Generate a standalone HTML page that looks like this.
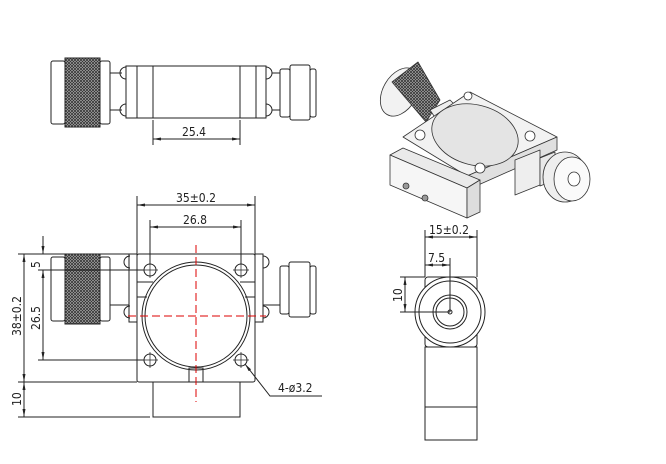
<!DOCTYPE html>
<html><head><style>
html,body{margin:0;padding:0;background:#fff;width:666px;height:464px;overflow:hidden}
svg text{font-family:"DejaVu Sans Condensed","Liberation Sans",sans-serif;fill:#222}
</style></head><body>
<svg width="666" height="464" viewBox="0 0 666 464" xmlns="http://www.w3.org/2000/svg">
<defs>
<pattern id="kn" width="3" height="3" patternUnits="userSpaceOnUse">
<rect width="3" height="3" fill="#bbb"/><path d="M0 0L3 3M3 0L0 3" stroke="#333" stroke-width="0.8"/>
</pattern>
<marker id="a" markerWidth="8" markerHeight="6" refX="8" refY="3" orient="auto-start-reverse" markerUnits="userSpaceOnUse"><path d="M0 1.5L8 3L0 4.5z" fill="#222"/></marker>
</defs>
<g fill="none" stroke="#222" stroke-width="1">
<!-- TOP VIEW -->
<rect x="51" y="61" width="14" height="63" rx="2"/>
<rect x="65" y="58" width="35" height="69" fill="url(#kn)"/>
<rect x="100" y="61" width="10" height="63" rx="2"/>
<line x1="110" y1="73" x2="122" y2="73"/><line x1="110" y1="110" x2="122" y2="110"/>
<path d="M126 67a6 6 0 0 0 0 12M126 104a6 6 0 0 0 0 12"/>
<rect x="126" y="66" width="140" height="52"/>
<line x1="137" y1="66" x2="137" y2="118"/><line x1="153" y1="66" x2="153" y2="118"/>
<line x1="240" y1="66" x2="240" y2="118"/><line x1="256" y1="66" x2="256" y2="118"/>
<path d="M266 67a6 6 0 0 1 0 12M266 104a6 6 0 0 1 0 12"/>
<line x1="272" y1="73" x2="280" y2="73"/><line x1="272" y1="110" x2="280" y2="110"/>
<rect x="280" y="69" width="10" height="48" rx="2"/>
<rect x="290" y="65" width="20" height="55" rx="2"/>
<rect x="310" y="69" width="6" height="48" rx="2"/>
<line x1="153" y1="120" x2="153" y2="145"/><line x1="240" y1="120" x2="240" y2="145"/>
<line x1="153" y1="139" x2="240" y2="139" marker-start="url(#a)" marker-end="url(#a)"/>

<!-- FRONT VIEW -->
<rect x="51" y="257" width="14" height="64" rx="2"/>
<rect x="65" y="254" width="35" height="70" fill="url(#kn)"/>
<rect x="100" y="257" width="10" height="64" rx="2"/>
<line x1="110" y1="305" x2="129" y2="305"/>
<path d="M130 256a6 6 0 0 0 0 12M130 306a6 6 0 0 0 0 12"/>
<rect x="129" y="254" width="8" height="68"/>
<rect x="137" y="254" width="118" height="128" rx="2"/>
<line x1="137" y1="282" x2="153" y2="282"/><line x1="240" y1="282" x2="255" y2="282"/>
<line x1="137" y1="297" x2="147" y2="297"/><line x1="245" y1="297" x2="255" y2="297"/>
<rect x="255" y="254" width="8" height="68"/>
<path d="M263 256a6 6 0 0 1 0 12M263 306a6 6 0 0 1 0 12"/>
<line x1="263" y1="305" x2="280" y2="305"/>
<rect x="280" y="266" width="9" height="48" rx="2"/>
<rect x="289" y="262" width="21" height="55" rx="2"/>
<rect x="310" y="266" width="6" height="48" rx="2"/>
<circle cx="196" cy="316" r="54"/><circle cx="196" cy="316" r="51"/>
<circle cx="150" cy="270" r="6"/><circle cx="241" cy="270" r="6"/>
<circle cx="150" cy="360" r="6"/><circle cx="241" cy="360" r="6"/>
<path d="M142 270h16M150 262v16M233 270h16M241 262v16M142 360h16M150 352v16M233 360h16M241 352v16" stroke-width="0.7"/>
<rect x="189" y="368" width="14" height="14"/>
<rect x="153" y="382" width="87" height="35"/>
<line x1="137" y1="196" x2="137" y2="254"/><line x1="255" y1="196" x2="255" y2="254"/>
<line x1="137" y1="205" x2="255" y2="205" marker-start="url(#a)" marker-end="url(#a)"/>
<line x1="150" y1="220" x2="150" y2="264"/><line x1="241" y1="220" x2="241" y2="264"/>
<line x1="150" y1="227" x2="241" y2="227" marker-start="url(#a)" marker-end="url(#a)"/>
<line x1="18" y1="254" x2="137" y2="254"/>
<line x1="18" y1="382" x2="137" y2="382"/>
<line x1="18" y1="417" x2="150" y2="417"/>
<line x1="38" y1="270" x2="144" y2="270"/>
<line x1="38" y1="360" x2="144" y2="360"/>
<line x1="24" y1="254" x2="24" y2="382" marker-start="url(#a)" marker-end="url(#a)"/>
<line x1="24" y1="382" x2="24" y2="417" marker-start="url(#a)" marker-end="url(#a)"/>
<line x1="43" y1="236" x2="43" y2="254" marker-end="url(#a)"/>
<line x1="43" y1="270" x2="43" y2="360" marker-start="url(#a)" marker-end="url(#a)"/>
<polyline points="245,364 270,396 322,396" marker-start="url(#a)"/>

<!-- SIDE VIEW -->
<rect x="425" y="277" width="52" height="70" rx="3"/>
<rect x="425" y="347" width="52" height="93"/>
<line x1="425" y1="407" x2="477" y2="407"/>
<circle cx="450" cy="312" r="35" fill="#fff"/><circle cx="450" cy="312" r="31"/>
<circle cx="450" cy="312" r="17"/><circle cx="450" cy="312" r="14"/>
<circle cx="450" cy="312" r="2"/>
<line x1="425" y1="230" x2="425" y2="277"/><line x1="477" y1="230" x2="477" y2="277"/>
<line x1="425" y1="237" x2="477" y2="237" marker-start="url(#a)" marker-end="url(#a)"/>
<line x1="450" y1="258" x2="450" y2="312"/>
<line x1="425" y1="265" x2="450" y2="265" marker-start="url(#a)" marker-end="url(#a)"/>
<line x1="400" y1="277" x2="425" y2="277"/><line x1="400" y1="312" x2="450" y2="312"/>
<line x1="405" y1="277" x2="405" y2="312" marker-start="url(#a)" marker-end="url(#a)"/>
</g>
<g stroke="#d00" stroke-width="1" stroke-dasharray="8,4" fill="none">
<line x1="196" y1="245" x2="196" y2="402"/>
<line x1="128" y1="316" x2="266" y2="316"/>
</g>
<!-- 3D VIEW -->
<g stroke="#333" stroke-width="0.8" stroke-linejoin="round">
<ellipse cx="400" cy="92" rx="17" ry="26" fill="#f2f2f2" transform="rotate(30 400 92)"/>
<path d="M392 82l26-20l22 38l-14 22z" fill="url(#kn)"/>
<polygon points="430,110 450,100 462,112 440,125" fill="#eee"/>
<polygon points="403,137 470,92 557,137 467,176" fill="#f2f2f2"/>
<polygon points="467,176 557,137 557,150 467,190" fill="#e0e0e0"/>
<ellipse cx="475" cy="135" rx="44" ry="30" fill="#e4e4e4" transform="rotate(15 475 135)"/>
<circle cx="420" cy="135" r="5" fill="#fff"/><circle cx="468" cy="96" r="4" fill="#fff"/>
<circle cx="530" cy="136" r="5" fill="#fff"/><circle cx="480" cy="168" r="5" fill="#fff"/>
<polygon points="390,155 403,148 480,180 467,188" fill="#eaeaea"/>
<polygon points="390,155 467,188 467,218 390,185" fill="#f6f6f6"/>
<polygon points="467,188 480,180 480,212 467,218" fill="#ddd"/>
<polygon points="515,160 540,150 540,185 515,195" fill="#eee"/>
<polygon points="540,158 555,152 555,180 540,186" fill="#e8e8e8"/>
<ellipse cx="565" cy="177" rx="22" ry="25" fill="#eee"/>
<ellipse cx="572" cy="179" rx="18" ry="22" fill="#fafafa"/>
<ellipse cx="574" cy="179" rx="6" ry="7" fill="#fff"/>
<circle cx="406" cy="186" r="3" fill="#999"/><circle cx="425" cy="198" r="3" fill="#999"/>
</g>
<g font-size="12">
<text x="182" y="136">25.4</text>
<text x="176" y="202">35±0.2</text>
<text x="183" y="224">26.8</text>
<text x="278" y="392">4-ø3.2</text>
<text x="429" y="234">15±0.2</text>
<text x="428" y="262">7.5</text>
<text transform="translate(21 336) rotate(-90)">38±0.2</text>
<text transform="translate(40 330) rotate(-90)">26.5</text>
<text transform="translate(40 268) rotate(-90)">5</text>
<text transform="translate(21 406) rotate(-90)">10</text>
<text transform="translate(402 302) rotate(-90)">10</text>
</g>
</svg>
</body></html>
